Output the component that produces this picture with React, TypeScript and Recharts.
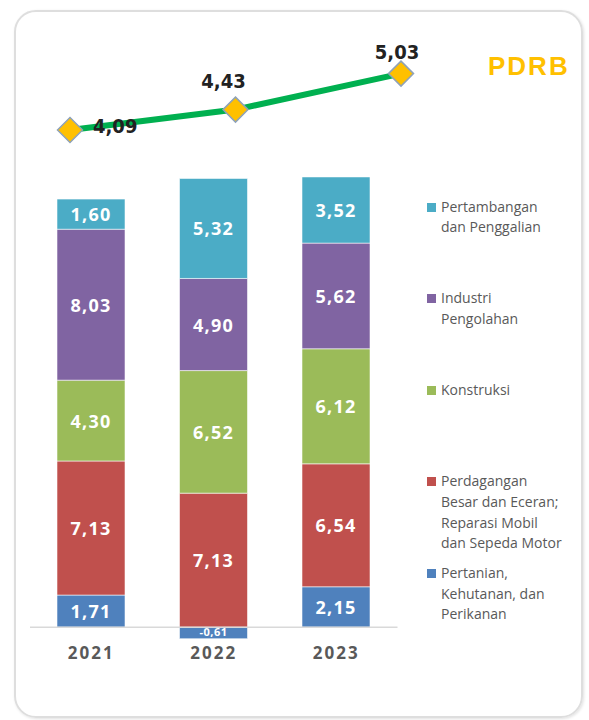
import { Bar, BarChart, LabelList, Line, LineChart, ReferenceLine, XAxis, YAxis } from "recharts";

const years = ["2021", "2022", "2023"];
const pertanian = [1.71, -0.61, 2.15];
const perdagangan = [7.13, 7.13, 6.54];
const konstruksi = [4.3, 6.52, 6.12];
const industri = [8.03, 4.9, 5.62];
const pertambangan = [1.6, 5.32, 3.52];
const pdrb = [4.09, 4.43, 5.03];

// bottom -> top stacking order
const sectors = [
  { key: "pertanian", values: pertanian, color: "#4F81BD", label: ["Pertanian,", "Kehutanan, dan", "Perikanan"] },
  { key: "perdagangan", values: perdagangan, color: "#C0504D", label: ["Perdagangan", "Besar dan Eceran;", "Reparasi Mobil", "dan Sepeda Motor"] },
  { key: "konstruksi", values: konstruksi, color: "#9BBB59", label: ["Konstruksi"] },
  { key: "industri", values: industri, color: "#8064A2", label: ["Industri", "Pengolahan"] },
  { key: "pertambangan", values: pertambangan, color: "#4BACC6", label: ["Pertambangan", "dan Penggalian"] },
];

const barData = years.map((year, i) => {
  const row: Record<string, string | number> = { year };
  sectors.forEach((s) => (row[s.key] = s.values[i]));
  return row;
});
const lineData = years.map((year, i) => ({ year, pdrb: pdrb[i] }));

const fmt = (v: unknown) => Number(v).toFixed(2).replace(".", ",");

function Diamond(props: any) {
  const { cx, cy } = props;
  if (cx == null || cy == null) return null;
  const r = 12.5;
  return (
    <polygon
      points={`${cx},${cy - r} ${cx + r},${cy} ${cx},${cy + r} ${cx - r},${cy}`}
      fill="#FFC000"
      stroke="#8FA2B8"
      strokeWidth={1.5}
    />
  );
}

function PdrbLabel(props: any) {
  const { x, y, value, index } = props;
  const first = index === 0;
  const dx = first ? 23 : index === 1 ? -12 : -4;
  const dy = first ? -4 : index === 1 ? -28.5 : -22;
  return (
    <text
      x={x + dx}
      y={y + dy}
      textAnchor={first ? "start" : "middle"}
      dominantBaseline="central"
      fontFamily="'DejaVu Sans Condensed', 'DejaVu Sans', sans-serif"
      fontWeight={700}
      fontSize={20}
      fill="#222"
    >
      {fmt(value)}
    </text>
  );
}

// segment value, white, centred; the thin negative sliver gets a smaller one
function SegLabel(props: any) {
  const { x, y, width, height, value } = props;
  const small = Number(value) < 0;
  return (
    <text
      x={x + width / 2}
      y={y + height / 2 - (small ? 1 : 0)}
      textAnchor="middle"
      dominantBaseline="central"
      fontFamily="'Open Sans', sans-serif"
      fontWeight={700}
      fontSize={small ? 11 : 18}
      letterSpacing={small ? 0.5 : 1.2}
      fill="#ffffff"
    >
      {fmt(value)}
    </text>
  );
}

function YearTick(props: any) {
  const { x, y, payload } = props;
  return (
    <text
      x={x}
      y={y}
      dy={4}
      textAnchor="middle"
      dominantBaseline="central"
      fontFamily="'Open Sans', sans-serif"
      fontWeight={700}
      fontSize={17}
      letterSpacing={2}
      fill="#595959"
    >
      {payload.value}
    </text>
  );
}

export default function App() {
  return (
    <div style={{ position: "absolute", left: 0, top: 0, width: 589, height: 720, background: "#fff", overflow: "hidden" }}>
      <div
        style={{
          position: "absolute",
          left: 14,
          top: 10,
          width: 569,
          height: 708,
          boxSizing: "border-box",
          border: "2px solid #dedede",
          borderRadius: 22,
          boxShadow: "1px 1px 3px rgba(0,0,0,0.12)",
        }}
      />

      <div style={{ position: "absolute", left: 0, top: 0 }}>
        <BarChart
          width={420}
          height={680}
          data={barData}
          stackOffset="sign"
          margin={{ top: 176, right: 22.5, bottom: 0, left: 30 }}
          barSize={68}
        >
          <YAxis hide domain={[-1, 24]} allowDataOverflow />
          <XAxis dataKey="year" axisLine={false} tickLine={false} tickSize={0} height={34} tick={<YearTick />} />
          {sectors.map((s) => (
            <Bar
              key={s.key}
              dataKey={s.key}
              stackId="a"
              fill={s.color}
              stroke="rgba(255,255,255,0.55)"
              strokeWidth={1}
              isAnimationActive={false}
            >
              <LabelList dataKey={s.key} content={<SegLabel />} />
            </Bar>
          ))}
          <ReferenceLine y={0} stroke="#d9d9d9" strokeWidth={1.5} />
        </BarChart>
      </div>

      <div style={{ position: "absolute", left: 0, top: 0 }}>
        <LineChart width={450} height={200} data={lineData} margin={{ top: 63.4, right: 49, bottom: 64.6, left: 70 }}>
          <XAxis dataKey="year" hide scale="point" padding={{ left: 0, right: 0 }} />
          <YAxis hide domain={[4, 5.2]} />
          <Line
            dataKey="pdrb"
            stroke="#00B050"
            strokeWidth={6}
            dot={<Diamond />}
            activeDot={false}
            isAnimationActive={false}
          >
            <LabelList dataKey="pdrb" content={<PdrbLabel />} />
          </Line>
        </LineChart>
      </div>

      <div
        style={{
          position: "absolute",
          left: 488,
          top: 52,
          fontFamily: "'Liberation Sans', Arial, sans-serif",
          fontWeight: 700,
          fontSize: 26,
          letterSpacing: 2,
          color: "#FFC000",
          lineHeight: "28px",
        }}
      >
        PDRB
      </div>

      <div style={{ position: "absolute", left: 427, top: 196.5 }}>
        {[...sectors].reverse().map((s) => (
          <div key={s.key} style={{ position: "relative", height: 91.6 }}>
            <div style={{ position: "absolute", left: 0, top: 6, width: 9, height: 9, background: s.color }} />
            <div
              style={{
                position: "absolute",
                left: 14,
                top: 0,
                fontFamily: "'Open Sans', sans-serif",
                fontSize: 14,
                lineHeight: "20.7px",
                color: "#595959",
                whiteSpace: "nowrap",
              }}
            >
              {s.label.map((l) => (
                <div key={l}>{l}</div>
              ))}
            </div>
          </div>
        ))}
      </div>
    </div>
  );
}
